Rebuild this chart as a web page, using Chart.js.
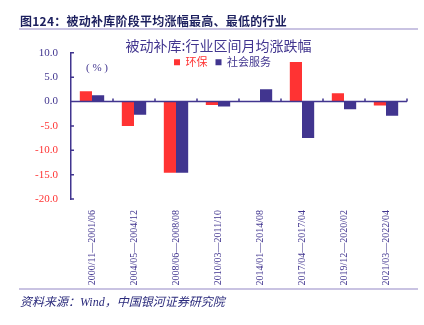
<!DOCTYPE html>
<html lang="zh">
<head>
<meta charset="UTF-8">
<title>被动补库阶段平均涨幅最高、最低的行业</title>
<script src="https://cdn.jsdelivr.net/npm/chart.js@4.4.1/dist/chart.umd.min.js"></script>
<style>
  html, body { margin: 0; padding: 0; background: #fff; }
  #wrap { position: relative; width: 424px; height: 325px; overflow: hidden; }
  #chart { position: absolute; left: 0; top: 0; }
  .head { position: absolute; left: 20px; top: 12px; font: bold 12px "Noto Sans CJK SC", sans-serif; letter-spacing: 0.25px; color: #1c1f5e; white-space: nowrap; }
  .rule { position: absolute; left: 19px; width: 399px; height: 2px; background: #c9c3e2; }
  .foot { position: absolute; left: 20px; top: 292px; font: italic 12px "Liberation Serif", "Noto Sans CJK SC", serif; color: #2b2b7c; white-space: nowrap; }
  .unit { position: absolute; left: 86px; top: 61px; font: 11px "Liberation Serif", "Noto Sans CJK SC", serif; color: #41358f; }
</style>
</head>
<body>
<div id="wrap">
  <canvas id="chart" width="424" height="325"></canvas>
  <div class="head">图124：被动补库阶段平均涨幅最高、最低的行业</div>
  <div class="rule" style="top:28px"></div>
  <div class="unit">( % )</div>
  <div class="rule" style="top:288px"></div>
  <div class="foot">资料来源：Wind，中国银河证券研究院</div>
</div>
<script>
    // periods of passive restocking
    var periods = ["2000/11\u20142001/06", "2004/05\u20142004/12", "2008/06\u20142008/08", "2010/03\u20142011/10",
                   "2014/01\u20142014/08", "2017/04\u20142017/04", "2019/12\u20142020/02", "2021/03\u20142022/04"];
    // average monthly change, %
    var huanbao = [2.1, -5.0, -14.6, -0.7, 0.1, 8.1, 1.7, -0.8];
    var shehuiFuwu = [1.3, -2.7, -14.6, -1.0, 2.5, -7.5, -1.6, -2.9];

    var RED = "#ff3333";
    var NAVY = "#41358f";

    // zero axis line with small ticks + inward ticks on the y axis
    var axisPlugin = {
        id: "axisMarks",
        afterDatasetsDraw: function (chart) {
            var ctx = chart.ctx, x = chart.scales.x, y = chart.scales.y, area = chart.chartArea;
            var y0 = y.getPixelForValue(0);
            ctx.save();
            ctx.strokeStyle = NAVY;
            ctx.lineWidth = 1.5;
            ctx.beginPath();
            ctx.moveTo(area.left, y0);
            ctx.lineTo(area.right, y0);
            for (var i = 0; i < periods.length; i++) {
                var bx = i < periods.length - 1 ? (x.getPixelForValue(i) + x.getPixelForValue(i + 1)) / 2 : area.right;
                ctx.moveTo(bx, y0);
                ctx.lineTo(bx, y0 - 3);
            }
            y.ticks.forEach(function (t) {
                var ty = y.getPixelForValue(t.value);
                ctx.moveTo(area.left, ty);
                ctx.lineTo(area.left + 3, ty);
            });
            ctx.stroke();
            ctx.restore();
        },
        afterLayout: function (chart) {
            // title just above the plot, legend inside the top of the plot
            var a = chart.chartArea, t = chart.titleBlock, l = chart.legend;
            if (t) {
                var th = t.bottom - t.top;
                t.top = a.top - th + 1;
                t.bottom = t.top + th;
            }
            if (l) {
                var lh = l.bottom - l.top;
                l.top = a.top - 4;
                l.bottom = l.top + lh;
                l.left += 4;
                l.right += 4;
            }
        }
    };

    var ctx = document.getElementById("chart").getContext("2d");
    var chart = new Chart(ctx, {
        type: "bar",
        data: {
            labels: periods,
            datasets: [
                { label: "环保", data: huanbao, backgroundColor: RED, categoryPercentage: 0.58, barPercentage: 1.0 },
                { label: "社会服务", data: shehuiFuwu, backgroundColor: NAVY, categoryPercentage: 0.58, barPercentage: 1.0 }
            ]
        },
        options: {
            responsive: false,
            animation: false,
            layout: { padding: { left: 30, right: 17, top: 7, bottom: 36 } },
            plugins: {
                title: {
                    display: true,
                    text: "被动补库:行业区间月均涨跌幅",
                    color: NAVY,
                    font: { family: "'Noto Sans CJK SC', sans-serif", size: 14, weight: "normal" },
                    padding: { top: 0, bottom: 0 }
                },
                legend: {
                    position: "top",
                    align: "center",
                    labels: {
                        boxWidth: 6,
                        boxHeight: 6,
                        padding: 8,
                        font: { family: "'Noto Sans CJK SC', sans-serif", size: 11 },
                        generateLabels: function (c) {
                            var items = Chart.defaults.plugins.legend.labels.generateLabels(c);
                            items.forEach(function (it) { it.fontColor = it.fillStyle; it.lineWidth = 0; });
                            return items;
                        }
                    }
                },
                tooltip: { enabled: false }
            },
            scales: {
                x: {
                    grid: { display: false },
                    border: { display: false },
                    afterFit: function (s) { s.height = 90; },
                    ticks: {
                        color: NAVY,
                        minRotation: 90,
                        maxRotation: 90,
                        padding: 3,
                        autoSkip: false,
                        font: { family: "'Liberation Serif', serif", size: 10 }
                    }
                },
                y: {
                    min: -20,
                    max: 10,
                    afterFit: function (s) { s.width = 41; },
                    grid: { display: false, drawTicks: false },
                    border: { display: true, color: NAVY, width: 1.5 },
                    ticks: {
                        stepSize: 5,
                        padding: 13,
                        font: { family: "'Liberation Serif', serif", size: 11 },
                        color: function (c) { return c.tick.value < 0 ? RED : NAVY; },
                        callback: function (v) { return v.toFixed(1); }
                    }
                }
            }
        },
        plugins: [axisPlugin]
    });
</script>
</body>
</html>
